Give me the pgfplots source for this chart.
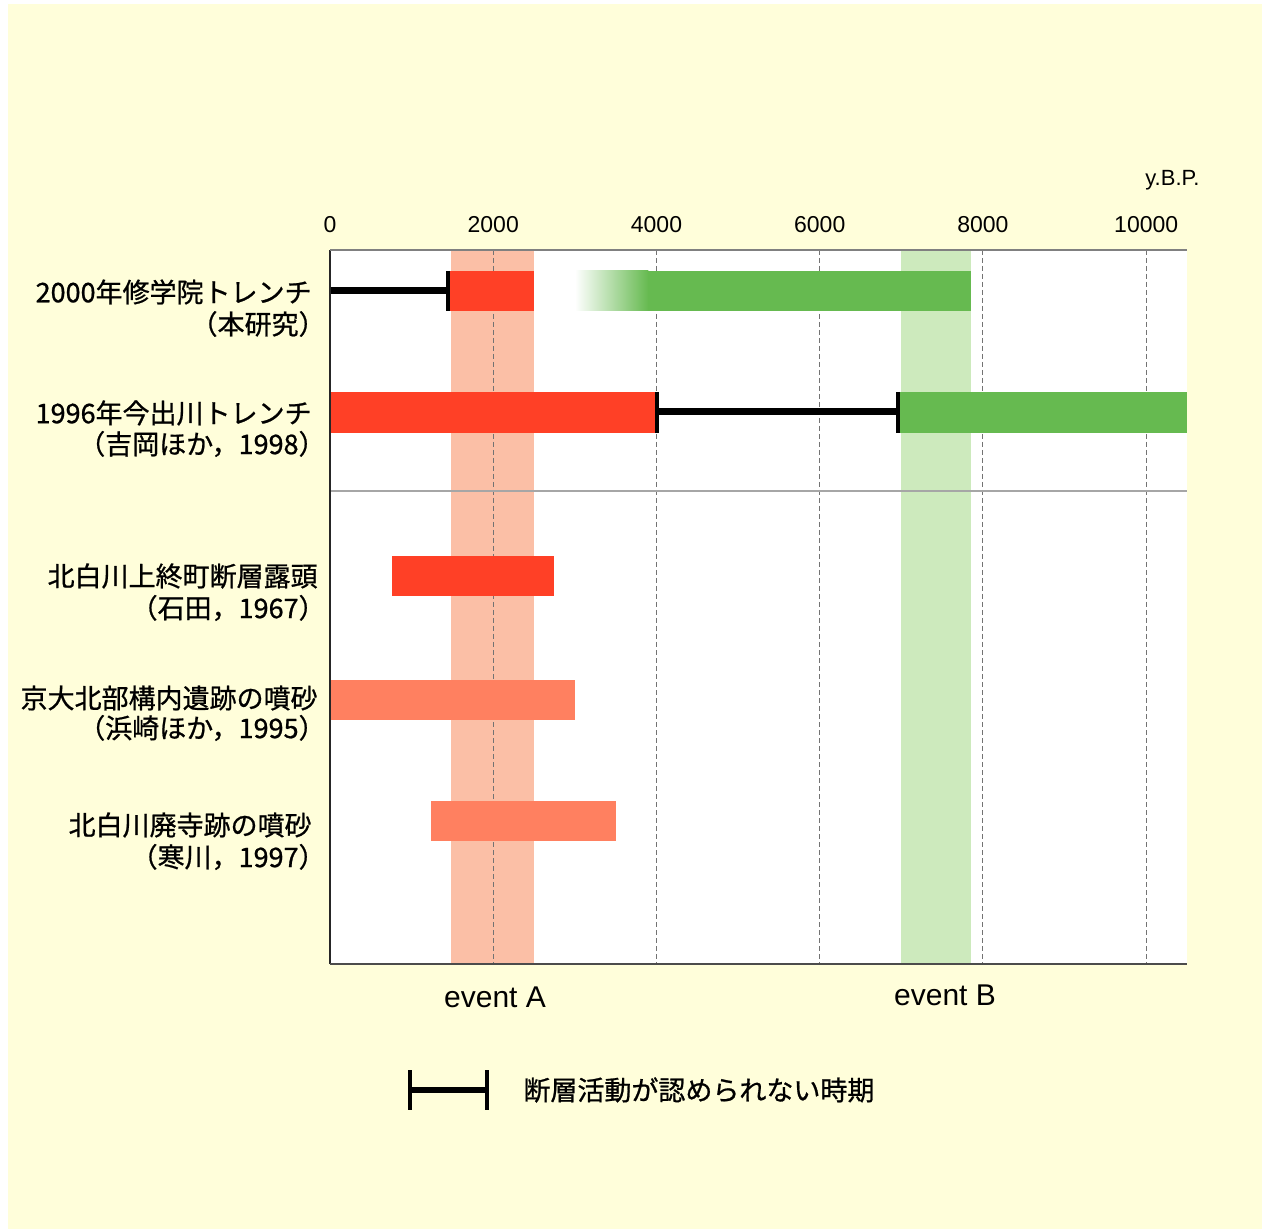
\documentclass[border=0pt]{standalone}
\usepackage{fontspec}
\setmainfont{Noto Sans CJK JP}
\newfontfamily\jpb{Noto Sans CJK JP}[FakeBold=0.8]
\newfontfamily\lat{Liberation Sans}
\usepackage{pgfplots}
\pgfplotsset{compat=1.18}

\definecolor{bg}{RGB}{255,254,218}
\definecolor{barred}{RGB}{255,64,38}
\definecolor{barsalmon}{RGB}{255,128,96}
\definecolor{bandred}{RGB}{251,191,166}
\definecolor{bargreen}{RGB}{102,186,80}
\definecolor{bandgreen}{RGB}{205,234,189}

\tikzset{rowlab/.style={anchor=east, inner sep=0pt, font=\jpb\fontsize{13.5}{14}\selectfont}}

\begin{document}
\begin{tikzpicture}
% page background (1 px = 0.5pt, origin at lower left of plot area)
\fill[white] (-165pt,-132.5pt) rectangle (466pt,482pt);
\fill[bg] (-161pt,-132.5pt) rectangle (466pt,480pt);

\begin{axis}[
    scale only axis,
    width=428.5pt, height=357pt,
    xmin=0, xmax=10500,
    ymin=250, ymax=964, y dir=reverse,
    clip=false,
    axis background/.style={fill=white},
    axis line style={draw=none},
    xtick={0,2000,4000,6000,8000,10000},
    xticklabels={0,2000,4000,6000,8000,10000},
    scaled x ticks=false,
    xticklabel pos=upper,
    major tick length=0pt,
    xticklabel style={font=\lat\fontsize{11.5}{12}\selectfont, yshift=5pt},
    ytick=\empty,
]
% event bands
\addplot[draw=none, fill=bandred] coordinates {(1480,250)(2500,250)(2500,964)(1480,964)} -- cycle;
\addplot[draw=none, fill=bandgreen] coordinates {(7000,250)(7850,250)(7850,964)(7000,964)} -- cycle;

% dashed grid
\addplot[gray!90!black, line width=0.5pt, dash pattern=on 2.5pt off 1.5pt] coordinates {(2000,250)(2000,964)};
\addplot[gray!90!black, line width=0.5pt, dash pattern=on 2.5pt off 1.5pt] coordinates {(4000,250)(4000,964)};
\addplot[gray!90!black, line width=0.5pt, dash pattern=on 2.5pt off 1.5pt] coordinates {(6000,250)(6000,964)};
\addplot[gray!90!black, line width=0.5pt, dash pattern=on 2.5pt off 1.5pt] coordinates {(8000,250)(8000,964)};
\addplot[gray!90!black, line width=0.5pt, dash pattern=on 2.5pt off 1.5pt] coordinates {(10000,250)(10000,964)};

% separator
\addplot[gray!70, line width=0.8pt] coordinates {(0,491)(10500,491)};

% row 1: 2000 Shugakuin trench
\addplot[black, line width=3.5pt] coordinates {(0,291)(1450,291)};
\addplot[draw=none, fill=barred] coordinates {(1450,271)(2500,271)(2500,311)(1450,311)} -- cycle;
\addplot[black, line width=2pt] coordinates {(1450,271)(1450,311)};
\addplot[draw=none, left color=white, right color=bargreen] coordinates {(3000,271)(3900,271)(3900,311)(3000,311)} -- cycle;
\addplot[draw=none, fill=bargreen] coordinates {(3890,271)(7850,271)(7850,311)(3890,311)} -- cycle;

% row 2: 1996 Imadegawa trench
\addplot[draw=none, fill=barred] coordinates {(0,392)(4010,392)(4010,433)(0,433)} -- cycle;
\addplot[black, line width=3.5pt] coordinates {(4010,412)(6960,412)};
\addplot[black, line width=2pt] coordinates {(4010,392)(4010,433)};
\addplot[draw=none, fill=bargreen] coordinates {(6960,392)(10500,392)(10500,433)(6960,433)} -- cycle;
\addplot[black, line width=2pt] coordinates {(6960,392)(6960,433)};

% rows 3-5
\addplot[draw=none, fill=barred] coordinates {(760,556)(2740,556)(2740,596)(760,596)} -- cycle;
\addplot[draw=none, fill=barsalmon] coordinates {(0,680)(3000,680)(3000,720)(0,720)} -- cycle;
\addplot[draw=none, fill=barsalmon] coordinates {(1240,801)(3510,801)(3510,841)(1240,841)} -- cycle;

% frame
\draw[black!85, line width=1pt] (rel axis cs:0,0) -- (rel axis cs:0,1);
\draw[gray, line width=0.8pt] (rel axis cs:0,1) -- (rel axis cs:1,1);
\draw[black!70, line width=1pt] (rel axis cs:0,0) -- (rel axis cs:1,0);

% row labels
\node[rowlab, xshift=-9pt] at (axis cs:0,292) {2000年修学院トレンチ};
\node[rowlab, xshift=-2pt] at (axis cs:0,324) {（本研究）};
\node[rowlab, xshift=-9pt] at (axis cs:0,413) {1996年今出川トレンチ};
\node[rowlab, xshift=-2pt] at (axis cs:0,444) {（吉岡ほか，1998）};
\node[rowlab, xshift=-6pt] at (axis cs:0,576) {北白川上終町断層露頭};
\node[rowlab, xshift=-2pt] at (axis cs:0,608) {（石田，1967）};
\node[rowlab, xshift=-6pt] at (axis cs:0,698) {京大北部構内遺跡の噴砂};
\node[rowlab, xshift=-2pt] at (axis cs:0,728) {（浜崎ほか，1995）};
\node[rowlab, xshift=-9pt] at (axis cs:0,825) {北白川廃寺跡の噴砂};
\node[rowlab, xshift=-2pt] at (axis cs:0,857) {（寒川，1997）};

% event labels and unit
\node[font=\lat\fontsize{15}{16}\selectfont, inner sep=0pt] at (axis cs:2022,997) {event A};
\node[font=\lat\fontsize{15}{16}\selectfont, inner sep=0pt] at (axis cs:7535,995) {event B};
\node[font=\lat\fontsize{11}{12}\selectfont, anchor=east, inner sep=0pt] at (axis cs:10659,180) {y.B.P.};

% legend
\draw[black, line width=3pt] (axis cs:980,1090) -- (axis cs:1924,1090);
\draw[black, line width=2pt] (axis cs:980,1070) -- (axis cs:980,1110);
\draw[black, line width=2pt] (axis cs:1924,1070) -- (axis cs:1924,1110);
\node[anchor=west, inner sep=0pt, font=\jpb\fontsize{13.5}{14}\selectfont] at (axis cs:2365,1090) {断層活動が認められない時期};
\end{axis}
\end{tikzpicture}
\end{document}
